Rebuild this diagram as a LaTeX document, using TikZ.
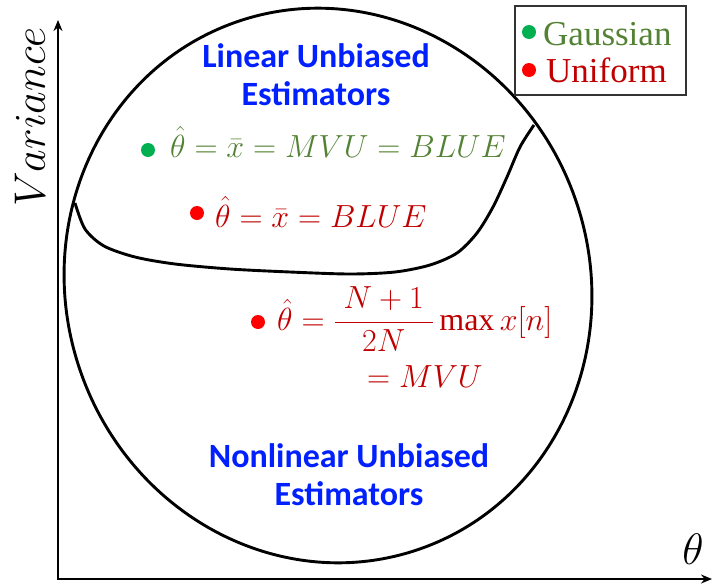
\RequirePackage{fix-cm}
\documentclass[tikz,border=0pt]{standalone}
\usepackage{amsmath}
\usepackage{fontspec}
\setmainfont{Liberation Serif}
\newfontfamily\calib{Carlito}
\usetikzlibrary{arrows.meta}
\definecolor{gtext}{RGB}{84,130,53}
\definecolor{gdot}{RGB}{0,176,80}
\definecolor{rtext}{RGB}{192,0,0}
\definecolor{rdot}{RGB}{255,0,0}
\definecolor{btext}{RGB}{0,32,255}
\begin{document}
\begin{tikzpicture}[x=1pt,y=-1pt,
  axisline/.style={line width=2.8pt, {Stealth[length=11pt,width=9pt]}-{Stealth[length=11pt,width=9pt]}},
  curveline/.style={line width=2.9pt},
  bulletdot/.style={circle, inner sep=0pt, minimum size=14pt},
  legtext/.style={inner sep=0pt, font=\fontsize{35}{40}\selectfont},
  mathtext/.style={inner sep=0pt, font=\fontsize{32}{38}\selectfont},
  bluetext/.style={inner sep=0pt, text=btext, font=\calib\bfseries\fontsize{34}{38}\selectfont},
  axlabel/.style={inner sep=0pt, font=\fontsize{44}{50}\selectfont}]
\useasboundingbox (0,0) rectangle (713,584);
% axes
\coordinate (O) at (58,579);
\coordinate (Ytip) at (58,20);
\coordinate (Xtip) at (712,579);
\draw[axisline] (Ytip) -- (O) -- (Xtip);
\node[axlabel, rotate=90, anchor=base] (vlab) at (45,117) {$Variance$};
\node[axlabel, anchor=base] (tlab) at (693,564) {$\theta$};
% big ellipse
\draw[curveline, rotate around={19:(328,285.5)}] (328,285.5) ellipse [x radius=262pt, y radius=279pt];
% inner dividing curve
\draw[curveline] plot[smooth, tension=0.5] coordinates {(75,203) (85,229) (104,246) (135,257) (175,264) (230,269) (290,272) (350,274) (395,272) (430,265) (457,253) (477,233) (493,207) (507,177) (520,147) (534,125)};
% legend
\draw[line width=1.2pt, draw=black!80] (515,6) rectangle (686,95);
\node[bulletdot, fill=gdot] (gd) at (529,32) {};
\node[legtext, text=gtext, anchor=base west] (gl) at (543,45) {Gaussian};
\node[bulletdot, fill=rdot] (rd) at (529,70) {};
\node[legtext, text=rtext, anchor=base west] (rl) at (546,82) {Uniform};
% blue labels
\node[bluetext, anchor=base] (lin1) at (316,67) {Linear Unbiased};
\node[bluetext, anchor=base] (lin2) at (316,105) {Estimators};
\node[bluetext, anchor=base] (non1) at (349,467) {Nonlinear Unbiased};
\node[bluetext, anchor=base] (non2) at (349,505) {Estimators};
% formulas
\node[bulletdot, fill=gdot] (b1) at (148,150) {};
\node[mathtext, text=gtext, anchor=base west] (f1) at (170,157) {$\hat{\theta} = \bar{x} = MVU = BLUE$};
\node[bulletdot, fill=rdot] (b2) at (197,213) {};
\node[mathtext, text=rtext, anchor=base west] (f2) at (215,227) {$\hat{\theta} = \bar{x} = BLUE$};
\node[bulletdot, fill=rdot] (b3) at (258,322) {};
\node[mathtext, text=rtext, anchor=base west] (f3) at (277,330) {$\hat{\theta} = \dfrac{\;N+1\;}{2N}\max x[n]$};
\node[mathtext, text=rtext, anchor=base west] (f4) at (367,387) {$= MVU$};
\end{tikzpicture}
\end{document}
